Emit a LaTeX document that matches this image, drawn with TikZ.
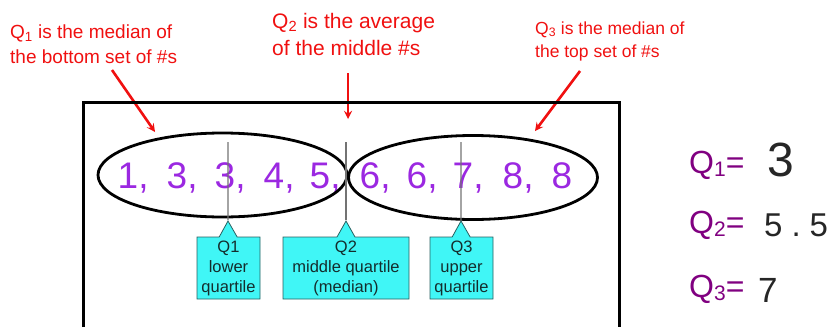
\documentclass[tikz,border=0pt]{standalone}
\usepackage{fontspec}
\setmainfont{Liberation Sans}
\usetikzlibrary{positioning,shapes.geometric,shapes.callouts,arrows}
\definecolor{NoteRed}{RGB}{240,16,16}
\definecolor{DataViolet}{RGB}{155,40,225}
\definecolor{QPurple}{RGB}{128,0,128}
\definecolor{BoxCyan}{RGB}{64,246,246}
\definecolor{BoxEdge}{RGB}{40,95,95}
\definecolor{BoxText}{RGB}{20,45,45}
\tikzset{note/.style={text=NoteRed,align=left,anchor=base west,inner sep=0pt},
	pointer/.style={->,>=stealth,draw=NoteRed,line width=2.6pt},
	num/.style={text=DataViolet,font=\fontsize{37}{37}\selectfont,anchor=base,inner sep=0pt},
	half/.style={ellipse,draw,line width=2.8pt,minimum width=249pt,minimum height=84pt,inner sep=0pt},
	qbox/.style={rectangle callout,fill=BoxCyan,draw=BoxEdge,line width=0.8pt,text=BoxText,
		align=center,font=\fontsize{16.5}{20}\selectfont,inner sep=0pt,callout pointer width=18pt},
	tick/.style={draw=black!55,line width=1.2pt},
	qlab/.style={text=QPurple,font=\fontsize{32}{32}\selectfont,anchor=base west,inner sep=0pt},
	hand/.style={anchor=base west,inner sep=0pt,text=black!85}}

\begin{document}
\begin{tikzpicture}[x=1pt,y=-1pt]
	\useasboundingbox (0,0) rectangle (835,327);
	% red notes
	\node[note,font=\fontsize{19}{25}\selectfont] (t1) at (10,63) {Q\textsubscript{1} is the median of\\the bottom set of \#s};
	\node[note,font=\fontsize{21}{27}\selectfont] (t2) at (272,55) {Q\textsubscript{2} is the average\\of the middle \#s};
	\node[note,font=\fontsize{17.5}{23}\selectfont] (t3) at (535,57) {Q\textsubscript{3} is the median of\\the top set of \#s};
	\coordinate (a1) at (112,70);
	\coordinate (b1) at (155,132);
	\coordinate (a2) at (348,73);
	\coordinate (b2) at (348,119);
	\coordinate (a3) at (580,71);
	\coordinate (b3) at (535,131);
	\draw[pointer] (a1) -- (b1);
	\draw[pointer] (a2) -- (b2);
	\draw[pointer] (a3) -- (b3);
	% frame
	\draw[line width=3pt] (83,327) -- (83,102) -- (619,102) -- (619,327);
	% data
	\foreach \cx/\d [count=\i] in {128/1,177/3,225/3,274/4,320/5,370/6,417/6,463/7,513/8}
		\node[num] (n\i) at (\cx,188) {\d\rlap{,}};
	\node[num] (n10) at (562,188) {8};
	\node[half] (low) at (222.5,175) {};
	\node[half] (high) at (473,177.5) {};
	% quartile boxes
	\node[qbox,minimum width=63pt,minimum height=62pt,callout absolute pointer={(228,221)}] (q1) at (228.5,268) {Q1\\lower\\quartile};
	\node[qbox,minimum width=126pt,minimum height=62pt,callout absolute pointer={(346,221)}] (q2) at (346,268) {Q2\\middle quartile\\(median)};
	\node[qbox,minimum width=63pt,minimum height=62pt,callout absolute pointer={(461,221)}] (q3) at (461.5,268) {Q3\\upper\\quartile};
	\coordinate (l1) at (228,142);
	\coordinate (l2) at (346,142);
	\coordinate (l3) at (461,142);
	\draw[tick] (l1) -- (q1.pointer);
	\draw[tick] (l2) -- (q2.pointer);
	\draw[tick] (l3) -- (q3.pointer);
	% answers
	\node[qlab] (qa) at (689,173) {Q\raisebox{-3pt}{\fontsize{21}{21}\selectfont 1}=};
	\node[qlab] (qb) at (689,233) {Q\raisebox{-3pt}{\fontsize{21}{21}\selectfont 2}=};
	\node[qlab] (qc) at (689,297) {Q\raisebox{-3pt}{\fontsize{21}{21}\selectfont 3}=};
	\node[hand,font=\fontsize{48}{48}\selectfont] (va) at (767,176) {3};
	\node[hand,font=\fontsize{33}{33}\selectfont] (vb) at (764,236) {5\kern9pt.\kern9pt5};
	\node[hand,font=\fontsize{35}{35}\selectfont] (vc) at (758,302) {7};
\end{tikzpicture}
\end{document}
